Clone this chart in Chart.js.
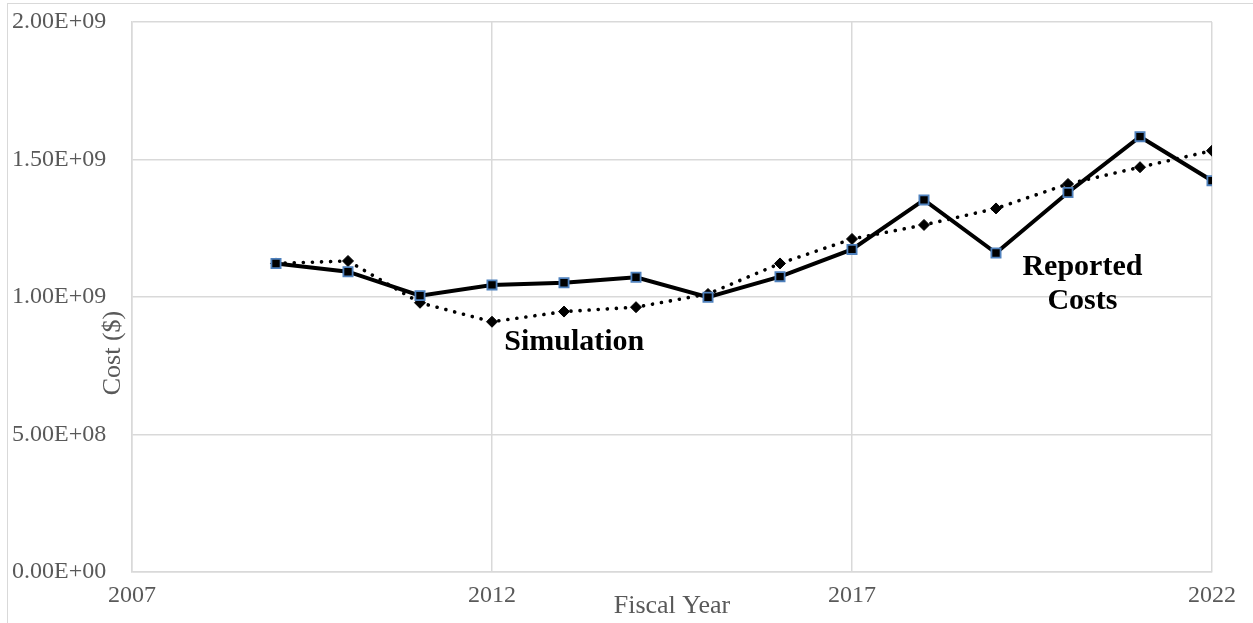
<!DOCTYPE html>
<html>
<head>
<meta charset="utf-8">
<script src="https://cdn.jsdelivr.net/npm/chart.js@4"></script>
<style>
    body { margin: 0; background: #fff; }
    #wrap { position: relative; width: 1253px; height: 623px; }
    #marco { position: absolute; left: 7px; top: 3px; right: 0; bottom: 0;
             border-left: 1.5px solid #d9d9d9; border-top: 1.5px solid #d9d9d9; }
</style>
</head>
<body>
<div id="wrap">
    <div id="marco"></div>
    <canvas id="costChart"></canvas>
</div>
<script>
// Años fiscales y series
const anios = [2009, 2010, 2011, 2012, 2013, 2014, 2015, 2016, 2017, 2018, 2019, 2020, 2021, 2022];
const costosReportados = [1.122e9, 1.092e9, 1.005e9, 1.044e9, 1.052e9, 1.072e9, 0.999e9,
                          1.074e9, 1.173e9, 1.353e9, 1.160e9, 1.380e9, 1.583e9, 1.423e9];
const simulacion = [1.122e9, 1.131e9, 0.979e9, 0.910e9, 0.947e9, 0.963e9, 1.011e9,
                    1.122e9, 1.211e9, 1.262e9, 1.322e9, 1.411e9, 1.472e9, 1.532e9];
const ticksX = [2007, 2012, 2017, 2022];

const gris = '#d9d9d9';
const textoGris = '#595959';
const fuente = 'Liberation Serif';

// Formato estilo Excel: 1.50E+09
function formatoCientifico(v) {
    if (v === 0) return '0.00E+00';
    const exp = Math.floor(Math.log10(Math.abs(v)));
    const man = v / Math.pow(10, exp);
    return man.toFixed(2) + 'E' + (exp < 0 ? '-' : '+') + String(Math.abs(exp)).padStart(2, '0');
}

// Etiquetas sobre el área del gráfico y título del eje Y
const etiquetasPlugin = {
    id: 'etiquetas',
    afterDraw(chart) {
        const ctx = chart.ctx;
        const x = chart.scales.x, y = chart.scales.y;
        ctx.save();
        ctx.fillStyle = '#000';
        ctx.font = 'bold 30px "' + fuente + '"';
        ctx.textBaseline = 'alphabetic';
        ctx.textAlign = 'left';
        ctx.fillText('Simulation', x.getPixelForValue(2012.17), y.getPixelForValue(0.807e9));
        ctx.textAlign = 'center';
        ctx.fillText('Reported', x.getPixelForValue(2020.2), y.getPixelForValue(1.08e9));
        ctx.fillText('Costs', x.getPixelForValue(2020.2), y.getPixelForValue(0.958e9));

        // título eje Y
        ctx.fillStyle = textoGris;
        ctx.font = '26px "' + fuente + '"';
        ctx.translate(120, (y.top + y.bottom) / 2 + 56);
        ctx.rotate(-Math.PI / 2);
        ctx.textAlign = 'center';
        ctx.fillText('Cost ($)', 0, 0);
        ctx.restore();
    }
};

const ctx = document.getElementById('costChart').getContext('2d');
new Chart(ctx, {
    type: 'line',
    data: {
        datasets: [{
            label: 'Reported Costs',
            data: anios.map((a, i) => ({ x: a, y: costosReportados[i] })),
            borderColor: '#000',
            borderWidth: 4,
            pointStyle: 'rect',
            pointRadius: 6.5,
            pointBackgroundColor: '#000',
            pointBorderColor: '#4f81bd',
            pointBorderWidth: 1.8,
            tension: 0
        }, {
            label: 'Simulation',
            data: anios.map((a, i) => ({ x: a, y: simulacion[i] })),
            borderColor: '#000',
            borderWidth: 3.6,
            borderDash: [0.1, 9],
            borderCapStyle: 'round',
            pointStyle: 'rectRot',
            pointRadius: 5.5,
            pointBackgroundColor: '#000',
            pointBorderColor: '#000',
            pointBorderWidth: 1,
            tension: 0
        }]
    },
    options: {
        responsive: true,
        maintainAspectRatio: false,
        animation: false,
        layout: { padding: { left: 12, top: 22, right: 41, bottom: 0 } },
        plugins: {
            legend: { display: false },
            tooltip: { enabled: false }
        },
        scales: {
            x: {
                type: 'linear',
                min: 2007,
                max: 2022,
                afterBuildTicks(scale) {
                    scale.ticks = ticksX.map(v => ({ value: v }));
                },
                afterFit(scale) { scale.height = 51; },
                grid: { color: gris, lineWidth: 1.5, drawTicks: false },
                border: { color: gris, width: 1.5 },
                ticks: {
                    padding: 9,
                    color: textoGris,
                    font: { family: fuente, size: 24 },
                    maxRotation: 0,
                    callback: v => String(v)
                },
                title: {
                    display: true,
                    text: 'Fiscal Year',
                    color: textoGris,
                    font: { family: fuente, size: 26 },
                    padding: { top: 0, bottom: 1 }
                }
            },
            y: {
                min: 0,
                max: 2e9,
                afterFit(scale) { scale.width = 120; },
                grid: { color: gris, lineWidth: 1.5, drawTicks: false },
                border: { color: gris, width: 1.5 },
                ticks: {
                    stepSize: 5e8,
                    crossAlign: 'far',
                    color: textoGris,
                    font: { family: fuente, size: 24 },
                    callback: v => formatoCientifico(v)
                }
            }
        }
    },
    plugins: [etiquetasPlugin]
});
</script>
</body>
</html>
